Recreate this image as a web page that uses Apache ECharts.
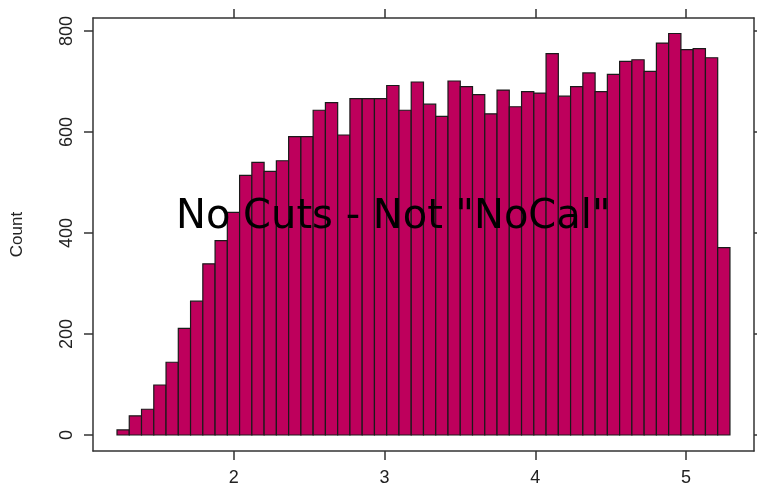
<!DOCTYPE html>
<html>
<head>
<meta charset="utf-8">
<script src="https://cdn.jsdelivr.net/npm/echarts@6/dist/echarts.min.js"></script>
<style>html,body{margin:0;padding:0;background:#fff;}#c{width:757px;height:494px;}</style>
</head>
<body>
<div id="c"></div>
<script>
// Histogram data
const binStart = 1.2256;
const binWidth = 0.08131;
const counts = [10, 38, 51, 99, 144, 211, 265, 339, 385, 441,
                514, 540, 522, 543, 591, 591, 643, 658, 594, 666,
                666, 666, 692, 643, 699, 655, 631, 701, 690, 674,
                636, 683, 650, 680, 677, 755, 671, 690, 717, 680,
                714, 740, 743, 720, 776, 795, 763, 765, 747, 371];
const xTicks = [2, 3, 4, 5];
const yTicks = [0, 200, 400, 600, 800];
const yTitle = 'Count';
const overlayText = 'No Cuts - Not "NoCal"';

const bins = counts.map((c, i) => [binStart + i * binWidth, binStart + (i + 1) * binWidth, c]);

const lineCol = '#333';
const txtCol = '#222';
const font = "'Liberation Sans', Arial, sans-serif";

const chart = echarts.init(document.getElementById('c'), null, {renderer: 'canvas'});
chart.setOption({
  animation: false,
  backgroundColor: '#fff',
  grid: {left: 93, top: 18, width: 661, height: 433, containLabel: false},
  xAxis: [{
    type: 'value', position: 'bottom', min: 1.0664, max: 5.4506,
    axisLine: {show: true, onZero: false, lineStyle: {color: lineCol, width: 1.5}},
    axisTick: {show: true, inside: false, length: 9, customValues: xTicks, lineStyle: {color: lineCol, width: 1.5}},
    axisLabel: {show: true, customValues: xTicks, margin: 18, fontSize: 18, fontFamily: font, color: txtCol},
    splitLine: {show: false}
  }, {
    type: 'value', position: 'top', min: 1.0664, max: 5.4506,
    axisLine: {show: true, onZero: false, lineStyle: {color: lineCol, width: 1.5}},
    axisTick: {show: true, inside: false, length: 9, customValues: xTicks, lineStyle: {color: lineCol, width: 1.5}},
    axisLabel: {show: false},
    splitLine: {show: false}
  }],
  yAxis: [{
    type: 'value', position: 'left', min: -31.7, max: 825.7,
    name: yTitle, nameLocation: 'middle', nameRotate: 90, nameGap: 67,
    nameTextStyle: {fontSize: 17, fontFamily: font, color: txtCol},
    axisLine: {show: true, onZero: false, lineStyle: {color: lineCol, width: 1.5}},
    axisTick: {show: true, inside: false, length: 9, customValues: yTicks, lineStyle: {color: lineCol, width: 1.5}},
    axisLabel: {show: true, customValues: yTicks, rotate: 90, margin: 17, fontSize: 18, fontFamily: font, color: txtCol},
    splitLine: {show: false}
  }, {
    type: 'value', position: 'right', min: -31.7, max: 825.7,
    axisLine: {show: true, onZero: false, lineStyle: {color: lineCol, width: 1.5}},
    axisTick: {show: true, inside: false, length: 9, customValues: yTicks, lineStyle: {color: lineCol, width: 1.5}},
    axisLabel: {show: false},
    splitLine: {show: false}
  }],
  series: [{
    type: 'custom',
    xAxisIndex: 0, yAxisIndex: 0,
    data: bins,
    encode: {x: [0, 1], y: 2},
    renderItem: function (params, api) {
      const p0 = api.coord([api.value(0), api.value(2)]);
      const p1 = api.coord([api.value(1), 0]);
      return {
        type: 'rect',
        shape: {x: p0[0], y: p0[1], width: p1[0] - p0[0], height: p1[1] - p0[1]},
        style: {fill: '#BE005C', stroke: '#1a1a1a', lineWidth: 1.2}
      };
    }
  }],
  graphic: [{
    type: 'text', x: 176, y: 218, z: 100,
    style: {text: overlayText, font: "40px 'Comic Sans MS', 'DejaVu Sans', sans-serif", fill: '#000', textVerticalAlign: 'middle', textAlign: 'left'}
  }]
});
</script>
</body>
</html>
